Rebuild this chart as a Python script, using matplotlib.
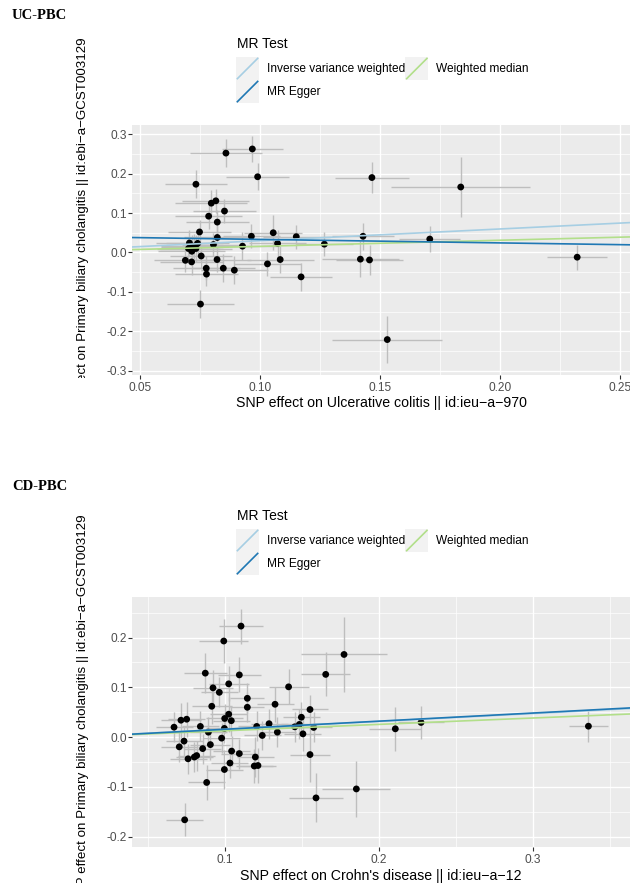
import matplotlib
matplotlib.use("Agg")
import matplotlib.pyplot as plt
from matplotlib.legend_handler import HandlerBase
from matplotlib.lines import Line2D
from matplotlib.patches import Rectangle
from matplotlib.transforms import Bbox, TransformedBbox

plt.rcParams['font.family'] = ['Liberation Sans', 'DejaVu Sans']

# ---- UC -> PBC (SNP effects and standard errors) ----
uc_bx = [0.0967, 0.0857, 0.0989, 0.0732, 0.0796, 0.0815, 0.0851, 0.0785, 0.0821, 0.0747,
         0.0821, 0.0963, 0.1054, 0.1150, 0.1072, 0.1267, 0.0926, 0.0805, 0.0705, 0.0715,
         0.0726, 0.0701, 0.0715, 0.0739, 0.0732, 0.0688, 0.0714, 0.0754, 0.0820, 0.0775,
         0.0776, 0.0846, 0.0892, 0.1030, 0.1083, 0.1170, 0.0751, 0.1465, 0.1835, 0.1428,
         0.1706, 0.1417, 0.1455, 0.2320, 0.1529]
uc_by = [0.2625, 0.252, 0.192, 0.173, 0.125, 0.131, 0.105, 0.092, 0.077, 0.052,
         0.038, 0.041, 0.050, 0.040, 0.023, 0.021, 0.016, 0.020, 0.024, 0.013,
         0.016, 0.010, 0.003, 0.023, 0.010, -0.020, -0.024, -0.009, -0.018, -0.040,
         -0.055, -0.040, -0.045, -0.029, -0.018, -0.062, -0.131, 0.190, 0.166, 0.041,
         0.034, -0.017, -0.019, -0.012, -0.221]
uc_sx = [0.0127, 0.015, 0.013, 0.013, 0.015, 0.014, 0.013, 0.014, 0.013, 0.013,
         0.014, 0.012, 0.012, 0.014, 0.012, 0.012, 0.015, 0.013, 0.014, 0.013,
         0.014, 0.013, 0.014, 0.013, 0.015, 0.013, 0.013, 0.013, 0.014, 0.014,
         0.013, 0.013, 0.014, 0.014, 0.014, 0.013, 0.014, 0.0154, 0.029, 0.013,
         0.0128, 0.016, 0.014, 0.0126, 0.023]
uc_sy = [0.033, 0.036, 0.034, 0.035, 0.034, 0.030, 0.030, 0.033, 0.030, 0.030,
         0.030, 0.030, 0.045, 0.030, 0.035, 0.030, 0.035, 0.030, 0.032, 0.030,
         0.032, 0.030, 0.033, 0.030, 0.034, 0.030, 0.032, 0.030, 0.032, 0.030,
         0.030, 0.035, 0.035, 0.030, 0.035, 0.036, 0.035, 0.039, 0.075, 0.034,
         0.033, 0.045, 0.037, 0.032, 0.060]

# ---- CD -> PBC ----
cd_bx = [0.1104, 0.0992, 0.0872, 0.1093, 0.1024, 0.0922, 0.0963, 0.1145, 0.0914, 0.1145,
         0.1325, 0.1413, 0.1024, 0.0998, 0.1041, 0.0669, 0.0714, 0.0751, 0.0840, 0.0892,
         0.0996, 0.0978, 0.0734, 0.0703, 0.0905, 0.0855, 0.0760, 0.0801, 0.0816, 0.1043,
         0.1093, 0.1032, 0.0996, 0.0881, 0.0738, 0.1206, 0.1242, 0.1286, 0.1340, 0.1197,
         0.1190, 0.1214, 0.1453, 0.1483, 0.1496, 0.1506, 0.1552, 0.1576, 0.1552, 0.1591,
         0.1654, 0.1773, 0.1853, 0.2106, 0.2273, 0.3360]
cd_by = [0.223, 0.193, 0.1285, 0.125, 0.107, 0.099, 0.090, 0.078, 0.062, 0.060,
         0.066, 0.101, 0.046, 0.0375, 0.033, 0.020, 0.034, 0.036, 0.0215, 0.010,
         0.0175, -0.002, -0.008, -0.0195, -0.015, -0.023, -0.0435, -0.040, -0.037, -0.028,
         -0.033, -0.052, -0.065, -0.091, -0.166, 0.0215, 0.0034, 0.027, 0.010, -0.040,
         -0.058, -0.057, 0.0207, 0.0255, 0.040, 0.0066, 0.0555, 0.0195, -0.035, -0.122,
         0.126, 0.166, -0.104, 0.0167, 0.0295, 0.022]
cd_sx = [0.014, 0.016, 0.014, 0.014, 0.013, 0.013, 0.012, 0.011, 0.013, 0.011,
         0.012, 0.013, 0.012, 0.012, 0.012, 0.012, 0.013, 0.012, 0.012, 0.012,
         0.012, 0.012, 0.012, 0.012, 0.013, 0.012, 0.012, 0.012, 0.012, 0.012,
         0.012, 0.012, 0.012, 0.012, 0.012, 0.012, 0.012, 0.012, 0.012, 0.012,
         0.012, 0.012, 0.012, 0.012, 0.012, 0.012, 0.012, 0.012, 0.013, 0.0175,
         0.016, 0.028, 0.022, 0.017, 0.015, 0.0124]
cd_sy = [0.035, 0.045, 0.040, 0.035, 0.035, 0.035, 0.030, 0.030, 0.035, 0.030,
         0.035, 0.035, 0.035, 0.030, 0.030, 0.030, 0.035, 0.035, 0.030, 0.030,
         0.030, 0.030, 0.030, 0.030, 0.030, 0.030, 0.030, 0.030, 0.030, 0.030,
         0.030, 0.030, 0.040, 0.035, 0.033, 0.030, 0.030, 0.030, 0.030, 0.040,
         0.035, 0.035, 0.030, 0.030, 0.030, 0.035, 0.030, 0.030, 0.055, 0.049,
         0.044, 0.076, 0.056, 0.044, 0.034, 0.031]

# MR estimates (intercept, slope) for each method
method_names = ["Inverse variance weighted", "MR Egger", "Weighted median"]
method_colors = ["#a6cee3", "#1f78b4", "#b2df8a"]
uc_intercepts = [0.0, 0.042, 0.0]
uc_slopes = [0.298, -0.089, 0.155]
cd_intercepts = [0.0, -0.0005, 0.0]
cd_slopes = [0.158, 0.163, 0.128]

uc_xticks = [0.05, 0.10, 0.15, 0.20, 0.25]
uc_xticklabels = ["0.05", "0.10", "0.15", "0.20", "0.25"]
uc_yticks = [-0.3, -0.2, -0.1, 0.0, 0.1, 0.2, 0.3]
uc_yticklabels = ["-0.3", "-0.2", "-0.1", "0.0", "0.1", "0.2", "0.3"]
cd_xticks = [0.1, 0.2, 0.3]
cd_xticklabels = ["0.1", "0.2", "0.3"]
cd_yticks = [-0.2, -0.1, 0.0, 0.1, 0.2]
cd_yticklabels = ["-0.2", "-0.1", "0.0", "0.1", "0.2"]

ylab = "SNP effect on Primary biliary cholangitis || id:ebi\u2212a\u2212GCST003129"
uc_xlab = "SNP effect on Ulcerative colitis || id:ieu\u2212a\u2212970"
cd_xlab = "SNP effect on Crohn's disease || id:ieu\u2212a\u221212"

W, H = 630, 883
fig = plt.figure(figsize=(W / 100, H / 100), dpi=100)


class DiagHandler(HandlerBase):
    # ggplot style legend key: grey box with a diagonal line
    def create_artists(self, legend, orig_handle, xdescent, ydescent,
                       width, height, fontsize, trans):
        bg = Rectangle((-xdescent, -ydescent), width, height,
                       facecolor="#F2F2F2", edgecolor="none", transform=trans)
        ln = Line2D([-xdescent + 1, -xdescent + width - 1],
                    [-ydescent + 1, -ydescent + height - 1],
                    color=orig_handle.get_color(), lw=1.2, transform=trans)
        return [bg, ln]


def draw_panel(ax, bx, by, sx, sy, intercepts, slopes, xlim, ylim,
               xticks, xticklabels, yticks, yticklabels, xminor, yminor, xlab):
    ax.set_facecolor("#EBEBEB")
    for s in ax.spines.values():
        s.set_visible(False)
    ax.errorbar(bx, by, yerr=sy, fmt="none", ecolor="#BEBEBE", elinewidth=1.0,
                capsize=0, zorder=2)
    ax.errorbar(bx, by, xerr=sx, fmt="none", ecolor="#BEBEBE", elinewidth=1.0,
                capsize=0, zorder=2)
    ax.scatter(bx, by, s=24, color="black", edgecolors="none", zorder=3)
    for i in [0, 2, 1]:
        ax.axline((0, intercepts[i]), slope=slopes[i], color=method_colors[i],
                  lw=1.2, zorder=4)
    ax.set_xlim(*xlim)
    ax.set_ylim(*ylim)
    ax.set_xticks(xticks)
    ax.set_xticklabels(xticklabels)
    ax.set_yticks(yticks)
    ax.set_yticklabels(yticklabels)
    ax.set_xticks(xminor, minor=True)
    ax.set_yticks(yminor, minor=True)
    ax.grid(which="major", color="white", lw=1.0, zorder=0)
    ax.grid(which="minor", color="white", lw=0.5, zorder=0)
    ax.set_axisbelow(True)
    ax.tick_params(which="major", length=2.6, width=0.8, color="#333333",
                   labelsize=8.6, labelcolor="#4D4D4D", pad=1.5)
    ax.tick_params(axis="x", which="major", pad=3)
    ax.tick_params(which="minor", length=0)
    ax.set_xlabel(xlab, fontsize=10.2, labelpad=1.5)


ax1 = fig.add_axes([132.3 / W, 1 - 374.5 / H, (W - 132.3) / W, 249.5 / H])
draw_panel(ax1, uc_bx, uc_by, uc_sx, uc_sy, uc_intercepts, uc_slopes,
           (0.0467, 0.254), (-0.3096, 0.3233),
           uc_xticks, uc_xticklabels, uc_yticks, uc_yticklabels,
           [0.075, 0.125, 0.175, 0.225], [-0.25, -0.15, -0.05, 0.05, 0.15, 0.25],
           uc_xlab)

ax2 = fig.add_axes([132.3 / W, 1 - 846.7 / H, (W - 132.3) / W, 250 / H])
draw_panel(ax2, cd_bx, cd_by, cd_sx, cd_sy, cd_intercepts, cd_slopes,
           (0.0398, 0.363), (-0.22, 0.282),
           cd_xticks, cd_xticklabels, cd_yticks, cd_yticklabels,
           [0.05, 0.15, 0.25, 0.35], [-0.15, -0.05, 0.05, 0.15, 0.25],
           cd_xlab)

# panel titles
fig.text(12 / W, 1 - 15.7 / H, "UC-PBC", fontsize=10.5, fontweight="bold",
         family=["Liberation Serif", "DejaVu Serif"], va="center", ha="left")
fig.text(12 / W, 1 - 487 / H, "CD-PBC", fontsize=10.5, fontweight="bold",
         family=["Liberation Serif", "DejaVu Serif"], va="center", ha="left")

# y axis titles (clipped like the original screenshot)
t1 = fig.text(83 / W, 1 - 37 / H, ylab, rotation=90, ha="center", va="top",
              fontsize=9.6, clip_on=True)
t1.set_clip_box(TransformedBbox(Bbox.from_extents(0, 1 - 378 / H, 1, 1),
                                fig.transFigure))
t2 = fig.text(83 / W, 1 - 514 / H, ylab, rotation=90, ha="center", va="top",
              fontsize=9.6, clip_on=True)
t2.set_clip_box(TransformedBbox(Bbox.from_extents(0, 0, 1, 1 - 470 / H),
                                fig.transFigure))

# legends: title text plus two-column key list
handles = [Line2D([], [], color=c, lw=1.2) for c in method_colors]
for ytitle, ykeys in [(44, 57), (516, 529)]:
    fig.text(237 / W, 1 - ytitle / H, "MR Test", fontsize=10, va="center",
             ha="left")
    fig.legend(handles, method_names, loc="upper left",
               bbox_to_anchor=(236 / W, 1 - ykeys / H), ncol=2, frameon=False,
               borderpad=0, borderaxespad=0,
               fontsize=8.6, handlelength=1.93,
               handleheight=2.59, labelspacing=0.0, handletextpad=0.67,
               columnspacing=0.0, handler_map={Line2D: DiagHandler()})

fig.savefig("out.png", dpi=100)
